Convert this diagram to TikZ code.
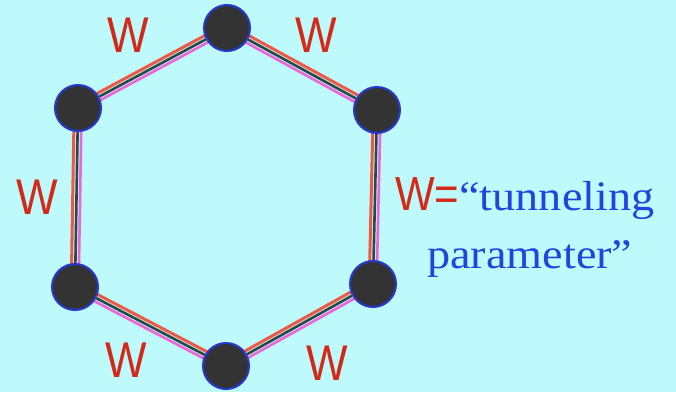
\documentclass[tikz,border=0pt]{standalone}
\usepackage{fontspec}
\setmainfont{Liberation Serif}
\newfontfamily\wfont{Liberation Sans}
\usetikzlibrary{calc,backgrounds}
\definecolor{bgc}{RGB}{190,249,251}
\definecolor{edgered}{RGB}{238,88,68}
\definecolor{edgegray}{RGB}{45,70,70}
\definecolor{edgepink}{RGB}{236,100,215}
\definecolor{nodefill}{RGB}{51,51,51}
\definecolor{nodeborder}{RGB}{40,55,205}
\definecolor{labred}{RGB}{212,40,24}
\definecolor{labblue}{RGB}{34,68,222}
\tikzset{
  site/.style={circle,fill=nodefill,draw=nodeborder,line width=2pt,minimum size=46pt,inner sep=0pt},
  wlabel/.style={inner sep=0pt,text=labred,font=\wfont\fontsize{44}{44}\selectfont},
  desc/.style={inner sep=0pt,anchor=base west,text=labblue,font=\fontsize{42}{42}\selectfont},
  redline/.style={draw=edgered,line width=3pt},
  grayline/.style={draw=edgegray,line width=2.6pt},
  pinkline/.style={draw=edgepink,line width=2.6pt}
}
\newcommand{\hopedge}[2]{%
  \draw[redline] ($(#1)!3.8pt!90:(#2)$) -- ($(#2)!3.8pt!-90:(#1)$);
  \draw[pinkline] ($(#1)!3.6pt!-90:(#2)$) -- ($(#2)!3.6pt!90:(#1)$);
  \draw[grayline] (#1) -- (#2);
}
\begin{document}
\begin{tikzpicture}[x=1pt,y=1pt]
\useasboundingbox (0,0) rectangle (676,392);
\node[site] (T)  at (227,364) {};
\node[site] (TL) at (78,284) {};
\node[site] (TR) at (377,282) {};
\node[site] (BL) at (75,105) {};
\node[site] (BR) at (373,108) {};
\node[site] (B)  at (226,26) {};
\begin{pgfonlayer}{background}
  \fill[bgc] (0,0) rectangle (676,392);
  \hopedge{TL}{T}
  \hopedge{T}{TR}
  \hopedge{BL}{TL}
  \hopedge{BR}{TR}
  \hopedge{BL}{B}
  \hopedge{B}{BR}
\end{pgfonlayer}
\node[wlabel] (w1) at (128,357) {\scalebox{1}[1.14]{W}};
\node[wlabel] (w2) at (316,357) {\scalebox{1}[1.14]{W}};
\node[wlabel] (w3) at (37,195) {\scalebox{1}[1.14]{W}};
\node[wlabel] (w4) at (126,32) {\scalebox{1}[1.14]{W}};
\node[wlabel] (w5) at (327,29) {\scalebox{1}[1.14]{W}};
\node[desc] (d1) at (395,182) {{\wfont\color{labred}\scalebox{1}[1.14]{W=}}\scalebox{1.1}[1]{“tunneling}};
\node[desc] (d2) at (427,124) {\scalebox{1.1}[1]{parameter”}};
\end{tikzpicture}
\end{document}
